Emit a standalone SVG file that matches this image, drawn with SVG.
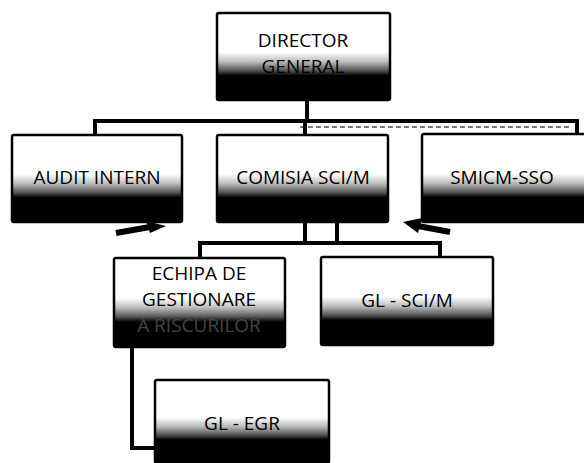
<svg xmlns="http://www.w3.org/2000/svg" width="584" height="463" viewBox="0 0 584 463">
<style>
.box{stroke:#000;stroke-width:2.5;fill:url(#g)}
.t{font-family:"Open Sans","Liberation Sans",sans-serif;font-size:19px;fill:#000;text-anchor:middle}
.c{stroke:#000;stroke-width:4;fill:none}
</style>
<defs>
<linearGradient id="g" x1="0" y1="0" x2="0" y2="1">
<stop offset="0" stop-color="#fff"/>
<stop offset="0.45" stop-color="#fff"/>
<stop offset="0.56" stop-color="#bbb"/>
<stop offset="0.66" stop-color="#555"/>
<stop offset="0.72" stop-color="#000"/>
<stop offset="1" stop-color="#000"/>
</linearGradient>
</defs>
<rect width="584" height="463" fill="#fff"/>
<g id="connectors">
<path class="c" d="M307 100V121M95 135V121H577V133"/>
<path d="M300 127H572" stroke="#000" stroke-width="1.2" stroke-dasharray="5 3" fill="none"/>
<path class="c" d="M305 121V135"/>
<path class="c" d="M305 222V243M337 222V243M200 258V243H440V257"/>
<path class="c" d="M132 347V448H155"/>
<path d="M116 233L150 227" stroke="#000" stroke-width="6" fill="none"/>
<path d="M146 221L166 226L150 233Z" fill="#000"/>
<path d="M450 232L418 226" stroke="#000" stroke-width="6" fill="none"/>
<path d="M403 222L422 218L418 233Z" fill="#000"/>
</g>
<g id="director">
<rect class="box" x="217" y="13" width="173" height="87" rx="2"/>
<text class="t" x="303" y="47">DIRECTOR</text>
<text class="t" x="303" y="73">GENERAL</text>
</g>
<g id="audit">
<rect class="box" x="12" y="135" width="170" height="87" rx="2"/>
<text class="t" x="97" y="184">AUDIT INTERN</text>
</g>
<g id="comisia">
<rect class="box" x="217" y="135" width="171" height="87" rx="2"/>
<text class="t" x="303" y="184">COMISIA SCI/M</text>
</g>
<g id="smicm">
<rect class="box" x="422" y="134" width="170" height="88" rx="2"/>
<text class="t" x="502" y="184">SMICM-SSO</text>
</g>
<g id="echipa">
<rect class="box" x="114" y="258" width="171" height="89" rx="2"/>
<text class="t" x="199" y="280">ECHIPA DE</text>
<text class="t" x="199" y="306">GESTIONARE</text>
<text class="t" x="199" y="332" style="fill:#444">A RISCURILOR</text>
</g>
<g id="glsci">
<rect class="box" x="321" y="257" width="172" height="88" rx="2"/>
<text class="t" x="407" y="307">GL - SCI/M</text>
</g>
<g id="glegr">
<rect class="box" x="155" y="380" width="174" height="83" rx="2"/>
<text class="t" x="242" y="430">GL - EGR</text>
</g>
</svg>
